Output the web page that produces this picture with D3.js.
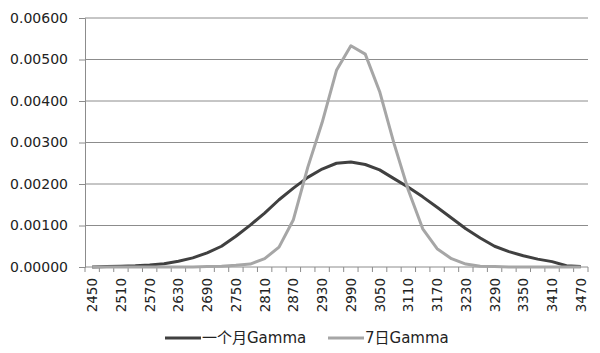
<!DOCTYPE html>
<html>
<head>
<meta charset="utf-8">
<script src="https://cdn.jsdelivr.net/npm/d3@7"></script>
<style>
  body { margin: 0; background: #fff; }
  svg text { font-family: "DejaVu Sans", "Noto Sans CJK SC", sans-serif; fill: #222; }
</style>
</head>
<body>
<svg id="chart" width="600" height="353"></svg>
<script>
// x categories, step 30
const prices = d3.range(2450, 3471, 30);

// 一个月Gamma (dark)
const gammaMonth = [
  0.00000, 0.00001, 0.00002, 0.00003, 0.00005, 0.00008, 0.00014, 0.00022, 0.00034, 0.00050,
  0.00074, 0.00101, 0.00130, 0.00162, 0.00190, 0.00216, 0.00236, 0.00250, 0.00253, 0.00247,
  0.00234, 0.00213, 0.00192, 0.00169, 0.00144, 0.00118, 0.00092, 0.00070, 0.00050, 0.00037,
  0.00027, 0.00019, 0.00013, 0.00003, 0.00001
];

// 7日Gamma (light)
const gamma7d = [
  0.00000, 0.00000, 0.00000, 0.00000, 0.00000, 0.00000, 0.00000, 0.00000, 0.00001, 0.00002,
  0.00004, 0.00007, 0.00020, 0.00048, 0.00114, 0.00240, 0.00348, 0.00474, 0.00533, 0.00513,
  0.00423, 0.00298, 0.00185, 0.00092, 0.00044, 0.00020, 0.00007, 0.00002, 0.00001, 0.00000,
  0.00000, 0.00000, 0.00000, 0.00000, 0.00000
];

const yTicks = [0, 0.001, 0.002, 0.003, 0.004, 0.005, 0.006];
const seriesNames = ["一个月Gamma", "7日Gamma"];
const seriesColors = ["#404040", "#a6a6a6"];

const svg = d3.select("#chart");
const margin = { left: 85, right: 12, top: 18, bottom: 86 };
const W = 600, H = 353;

const x = d3.scaleBand()
  .domain(prices)
  .range([margin.left, W - margin.right]);

const y = d3.scaleLinear()
  .domain([0, 0.006])
  .range([H - margin.bottom, margin.top]);

// gridlines
svg.append("g")
  .selectAll("line")
  .data(yTicks.slice(1))
  .enter()
  .append("line")
  .attr("x1", margin.left)
  .attr("x2", W - margin.right)
  .attr("y1", d => y(d))
  .attr("y2", d => y(d))
  .attr("stroke", "#8c8c8c")
  .attr("stroke-width", 1);

// y axis
const yAxis = svg.append("g")
  .attr("transform", `translate(${margin.left},0)`)
  .call(d3.axisLeft(y).tickValues(yTicks).tickFormat(d3.format(".5f")).tickSize(6).tickPadding(11));
yAxis.select(".domain").attr("stroke", "#8c8c8c");
yAxis.selectAll(".tick line").attr("stroke", "#8c8c8c");
yAxis.selectAll(".tick text").attr("font-size", "14px").attr("fill", "#222");

// x axis: ticks between categories
const xAxisG = svg.append("g")
  .attr("transform", `translate(0,${y(0)})`);
xAxisG.append("line")
  .attr("x1", margin.left)
  .attr("x2", W - margin.right)
  .attr("stroke", "#8c8c8c");
xAxisG.selectAll("line.tk")
  .data(d3.range(prices.length + 1))
  .enter()
  .append("line")
  .attr("class", "tk")
  .attr("x1", i => margin.left + i * x.step())
  .attr("x2", i => margin.left + i * x.step())
  .attr("y1", 0)
  .attr("y2", 5)
  .attr("stroke", "#8c8c8c");
xAxisG.selectAll("text")
  .data(prices.filter((d, i) => i % 2 === 0))
  .enter()
  .append("text")
  .attr("transform", d => `translate(${x(d) + x.bandwidth() / 2 + 5},11) rotate(-90)`)
  .attr("text-anchor", "end")
  .attr("font-size", "13.5px")
  .text(d => d);

// lines
const line = d3.line()
  .x((d, i) => x(prices[i]) + x.bandwidth() / 2)
  .y(d => y(d));

[gammaMonth, gamma7d].forEach((vals, k) => {
  svg.append("path")
    .attr("d", line(vals))
    .attr("fill", "none")
    .attr("stroke", seriesColors[k])
    .attr("stroke-width", 3)
    .attr("stroke-linejoin", "round");
});

// legend
const legendX = [165, 328];
const legend = svg.append("g");
seriesNames.forEach((name, k) => {
  legend.append("line")
    .attr("x1", legendX[k])
    .attr("x2", legendX[k] + 36)
    .attr("y1", 338)
    .attr("y2", 338)
    .attr("stroke", seriesColors[k])
    .attr("stroke-width", 3);
  legend.append("text")
    .attr("x", legendX[k] + 37)
    .attr("y", 343)
    .attr("font-size", "15px")
    .text(name);
});
</script>
</body>
</html>
